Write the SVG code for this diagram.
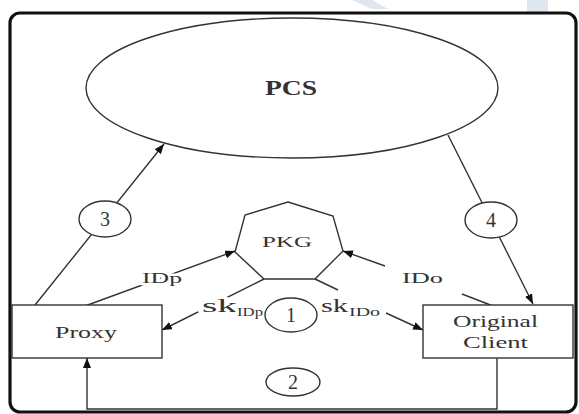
<svg xmlns="http://www.w3.org/2000/svg" width="579" height="414" viewBox="0 0 579 414">
  <style>
    .ln { fill: none; stroke: #333; stroke-width: 1.4; }
    .nd { fill: #fff; stroke: #333; stroke-width: 1.4; }
    .tx { font-family: "Liberation Serif", "Times New Roman", serif; fill: #333; }
    .halo { stroke: #fff; stroke-width: 5; paint-order: stroke; stroke-linejoin: round; }
  </style>
  <defs>
    <marker id="ah" markerUnits="userSpaceOnUse" markerWidth="11" markerHeight="9" refX="10" refY="4" orient="auto">
      <path d="M0,0 L10,4 L0,8 Z" fill="#111"/>
    </marker>
  </defs>
  <rect x="0" y="0" width="579" height="414" fill="#fff"/>
  <g id="watermark" fill="#dfe6ee">
    <polygon points="352,0 372,0 388,9 372,9"/>
    <rect x="527" y="0" width="21" height="12"/>
  </g>
  <g id="frame">
    <rect x="10" y="13" width="566" height="399" rx="10" ry="10" fill="none" stroke="#111" stroke-width="3.2"/>
  </g>
  <g id="connectors">
    <line class="ln" x1="35" y1="305" x2="164" y2="144" marker-end="url(#ah)"/>
    <line class="ln" x1="448" y1="135" x2="533" y2="304" marker-end="url(#ah)"/>
    <polyline class="ln" points="497,358 497,409 87,409 87,358" marker-end="url(#ah)"/>
    <line class="ln" x1="85" y1="306" x2="235" y2="251" marker-end="url(#ah)"/>
    <line class="ln" x1="493" y1="306" x2="462" y2="294"/>
    <line class="ln" x1="385" y1="266" x2="343" y2="251" marker-end="url(#ah)"/>
    <line class="ln" x1="264" y1="279" x2="162" y2="330" marker-end="url(#ah)"/>
    <line class="ln" x1="315" y1="279" x2="338" y2="290"/>
    <line class="ln" x1="386" y1="313" x2="423" y2="330" marker-end="url(#ah)"/>
    <text class="tx halo" x="142" y="283" font-size="15" textLength="40" lengthAdjust="spacingAndGlyphs">IDp</text>
    <text class="tx" x="402" y="283" font-size="15" textLength="41" lengthAdjust="spacingAndGlyphs">IDo</text>
    <text class="tx halo" x="202" y="312" font-size="18" textLength="35" lengthAdjust="spacingAndGlyphs">sk</text>
    <text class="tx halo" x="237" y="316" font-size="12" textLength="26" lengthAdjust="spacingAndGlyphs">IDp</text>
    <text class="tx" x="321" y="312" font-size="18" textLength="27" lengthAdjust="spacingAndGlyphs">sk</text>
    <text class="tx" x="349" y="316" font-size="12" textLength="31" lengthAdjust="spacingAndGlyphs">IDo</text>
  </g>
  <g id="pcs">
    <ellipse class="nd" cx="292" cy="88" rx="206" ry="70"/>
    <text class="tx" x="265" y="95" font-size="21" font-weight="bold" textLength="52" lengthAdjust="spacingAndGlyphs">PCS</text>
  </g>
  <g id="pkg">
    <polygon class="nd" points="288,202 333,216 343,251 315,279 264,279 235,252 245,215"/>
    <text class="tx" x="262" y="247" font-size="15" textLength="50" lengthAdjust="spacingAndGlyphs">PKG</text>
  </g>
  <g id="proxy">
    <rect class="nd" x="12" y="305" width="150" height="53"/>
    <text class="tx" x="55" y="338" font-size="16" textLength="62" lengthAdjust="spacingAndGlyphs">Proxy</text>
  </g>
  <g id="original-client">
    <rect class="nd" x="423" y="305" width="150" height="53"/>
    <text class="tx" x="453" y="327" font-size="16" textLength="85" lengthAdjust="spacingAndGlyphs">Original</text>
    <text class="tx" x="463" y="348" font-size="16" textLength="65" lengthAdjust="spacingAndGlyphs">Client</text>
  </g>
  <g id="step1">
    <ellipse class="nd" cx="291" cy="315" rx="26" ry="17"/>
    <text class="tx" x="291" y="322" font-size="20" text-anchor="middle">1</text>
  </g>
  <g id="step2">
    <ellipse class="nd" cx="293" cy="382" rx="27" ry="14"/>
    <text class="tx" x="293" y="389" font-size="20" text-anchor="middle">2</text>
  </g>
  <g id="step3">
    <ellipse class="nd" cx="105" cy="219" rx="26" ry="18"/>
    <text class="tx" x="105" y="226" font-size="20" text-anchor="middle">3</text>
  </g>
  <g id="step4">
    <ellipse class="nd" cx="491" cy="220" rx="26" ry="18"/>
    <text class="tx" x="491" y="227" font-size="20" text-anchor="middle">4</text>
  </g>
</svg>
